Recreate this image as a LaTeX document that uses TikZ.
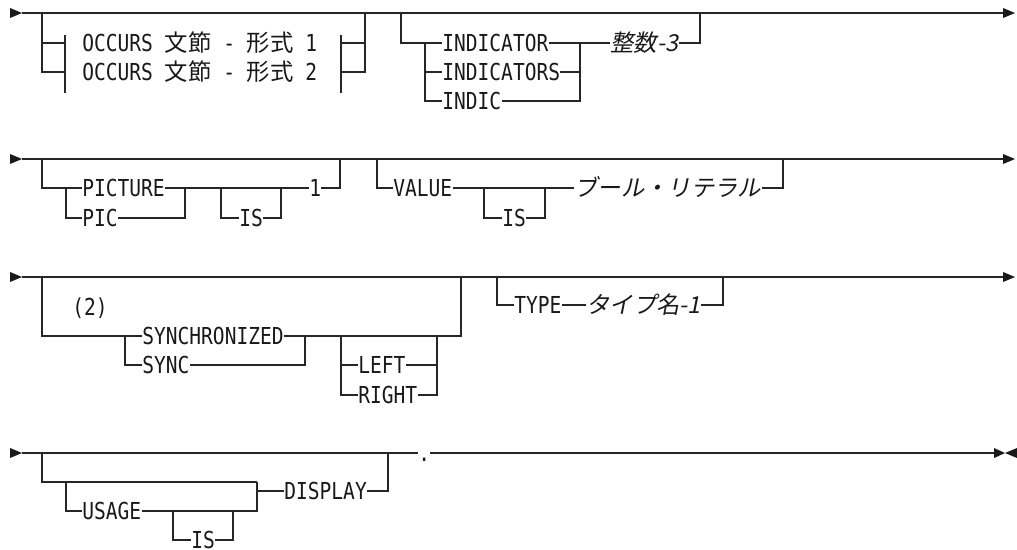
\documentclass[tikz,border=0pt]{standalone}
\usepackage{fontspec}
\setmonofont[FakeStretch=0.837]{DejaVu Sans Mono}
\newfontfamily\jp{Noto Sans CJK JP}
\newfontfamily\jpit[FakeSlant=0.2]{Noto Sans CJK JP}
\usepackage{tikz}
\usetikzlibrary{positioning}

\tikzset{
  rail/.style={draw=black!85, line width=0.65pt},
  kw/.style={font=\ttfamily\fontsize{13.3}{16}\selectfont, text=black!90, inner sep=0pt, text height=9.7pt, text depth=0pt, anchor=west},
  var/.style={font=\jpit\fontsize{13.3}{16}\selectfont, text=black!90, inner sep=0pt, text height=9.7pt, text depth=0pt, anchor=west},
  railtip/.style={fill=black!90}
}

\begin{document}
\begin{tikzpicture}[x=0.02cm, y=-0.02cm]
    \useasboundingbox (0,0) rectangle (1017,549);

    % row 1
    \coordinate (s1) at (22,13); \coordinate (e1) at (1003,13);
    \fill[railtip] (s1) -- ++(-12,-5) -- ++(0,10) -- cycle;
    \fill[railtip] (e1) -- ++(0,-5) -- ++(12,5) -- ++(-12,5) -- cycle;
    \draw[rail] (s1) -- (e1);
    \node[kw] (occ1) at (82,43) {OCCURS {\jp 文節} - {\jp 形式} 1};
    \node[kw] (occ2) at (82,72) {OCCURS {\jp 文節} - {\jp 形式} 2};
    \coordinate (oL) at (42,13); \coordinate (oR) at (365,13);
    \coordinate (barL) at (65,35); \coordinate (barR) at (341,35);
    \draw[rail] (barL) -- ++(0,58);
    \draw[rail] (barR) -- ++(0,58);
    \draw[rail] (oL) |- (barL |- occ2);
    \draw[rail] (oL |- occ1) -- (barL |- occ1);
    \draw[rail] (barR |- occ1) -- (oR |- occ1);
    \draw[rail] (barR |- occ2) -| (oR);
    \node[kw] (ind1) at (442,43) {INDICATOR};
    \node[kw] (ind2) at (442,72) {INDICATORS};
    \node[kw] (ind3) at (442,101) {INDIC};
    \node[var] (int3) at (610,43) {整数-3};
    \coordinate (iL) at (401,13); \coordinate (iR) at (700,13);
    \coordinate (iA) at (425,43); \coordinate (iB) at (580,43);
    \draw[rail] (iL) |- (ind1.west);
    \draw[rail] (iA) |- (ind3.west);
    \draw[rail] (iA |- ind2) -- (ind2.west);
    \draw[rail] (ind1.east) -- (int3.west);
    \draw[rail] (ind2.east) -- (iB |- ind2);
    \draw[rail] (ind3.east) -| (iB);
    \draw[rail] (int3.east) -| (iR);

    % row 2
    \coordinate (s2) at (22,159); \coordinate (e2) at (1003,159);
    \fill[railtip] (s2) -- ++(-12,-5) -- ++(0,10) -- cycle;
    \fill[railtip] (e2) -- ++(0,-5) -- ++(12,5) -- ++(-12,5) -- cycle;
    \draw[rail] (s2) -- (e2);
    \node[kw] (pic1) at (82,188) {PICTURE};
    \node[kw] (pic2) at (82,218) {PIC};
    \node[kw] (is1) at (239,218) {IS};
    \node[kw] (one) at (309,188) {1};
    \coordinate (pL) at (42,159); \coordinate (pR) at (340,159);
    \coordinate (pA) at (66,188); \coordinate (pB) at (185,188);
    \coordinate (isA) at (221,188); \coordinate (isB) at (281,188);
    \draw[rail] (pL) |- (pic1.west);
    \draw[rail] (pA) |- (pic2.west);
    \draw[rail] (pic2.east) -| (pB);
    \draw[rail] (pic1.east) -- (one.west);
    \draw[rail] (isA) |- (is1.west);
    \draw[rail] (is1.east) -| (isB);
    \draw[rail] (one.east) -| (pR);
    \node[kw] (val) at (393,188) {VALUE};
    \node[kw] (is2) at (502,218) {IS};
    \node[var] (bool) at (574,188) {ブール・リテラル};
    \coordinate (vL) at (377,159); \coordinate (vR) at (783,159);
    \coordinate (vA) at (484,188); \coordinate (vB) at (545,188);
    \draw[rail] (vL) |- (val.west);
    \draw[rail] (val.east) -- (bool.west);
    \draw[rail] (vA) |- (is2.west);
    \draw[rail] (is2.east) -| (vB);
    \draw[rail] (bool.east) -| (vR);

    % row 3
    \coordinate (s3) at (22,277); \coordinate (e3) at (1003,277);
    \fill[railtip] (s3) -- ++(-12,-5) -- ++(0,10) -- cycle;
    \fill[railtip] (e3) -- ++(0,-5) -- ++(12,5) -- ++(-12,5) -- cycle;
    \draw[rail] (s3) -- (e3);
    \node[kw] (note) at (72,307) {(2)};
    \node[kw] (syn1) at (142,336) {SYNCHRONIZED};
    \node[kw] (syn2) at (142,365) {SYNC};
    \node[kw] (lft) at (358,365) {LEFT};
    \node[kw] (rgt) at (358,395) {RIGHT};
    \coordinate (sL) at (42,277); \coordinate (sR) at (461,277);
    \coordinate (sA) at (125,336); \coordinate (sB) at (305,336);
    \coordinate (lA) at (341,336); \coordinate (lB) at (437,336);
    \draw[rail] (sL) |- (syn1.west);
    \draw[rail] (sA) |- (syn2.west);
    \draw[rail] (syn2.east) -| (sB);
    \draw[rail] (syn1.east) -| (sR);
    \draw[rail] (lA) |- (rgt.west);
    \draw[rail] (lA |- lft) -- (lft.west);
    \draw[rail] (lft.east) -- (lB |- lft);
    \draw[rail] (rgt.east) -| (lB);
    \node[kw] (typ) at (514,305) {TYPE};
    \node[var] (tname) at (586,305) {タイプ名-1};
    \coordinate (tL) at (497,277); \coordinate (tR) at (723,277);
    \draw[rail] (tL) |- (typ.west);
    \draw[rail] (typ.east) -- (tname.west);
    \draw[rail] (tname.east) -| (tR);

    % row 4
    \coordinate (s4) at (22,453); \coordinate (e4) at (994,453);
    \fill[railtip] (s4) -- ++(-12,-5) -- ++(0,10) -- cycle;
    \fill[railtip] (e4) -- ++(0,-5) -- ++(11,5) -- ++(-11,5) -- cycle;
    \fill[railtip] (e4) ++(23,0) -- ++(0,-5) -- ++(-12,5) -- ++(12,5) -- cycle;
    \node[kw] (dot) at (418,453) {.};
    \draw[rail] (s4) -- (dot.west);
    \draw[rail] (dot.east) -- (e4);
    \node[kw] (use) at (82,511) {USAGE};
    \node[kw] (is3) at (191,540) {IS};
    \node[kw] (disp) at (284,491) {DISPLAY};
    \coordinate (uL) at (42,453); \coordinate (uR) at (388,453);
    \coordinate (uA) at (66,482); \coordinate (uB) at (257,482);
    \coordinate (uC) at (173,511); \coordinate (uD) at (233,511);
    \draw[rail] (uL) |- (uB);
    \draw[rail] (uA) |- (use.west);
    \draw[rail] (use.east) -| (uB);
    \draw[rail] (uC) |- (is3.west);
    \draw[rail] (is3.east) -| (uD);
    \draw[rail] (uB |- disp) -- (disp.west);
    \draw[rail] (disp.east) -| (uR);
\end{tikzpicture}
\end{document}
